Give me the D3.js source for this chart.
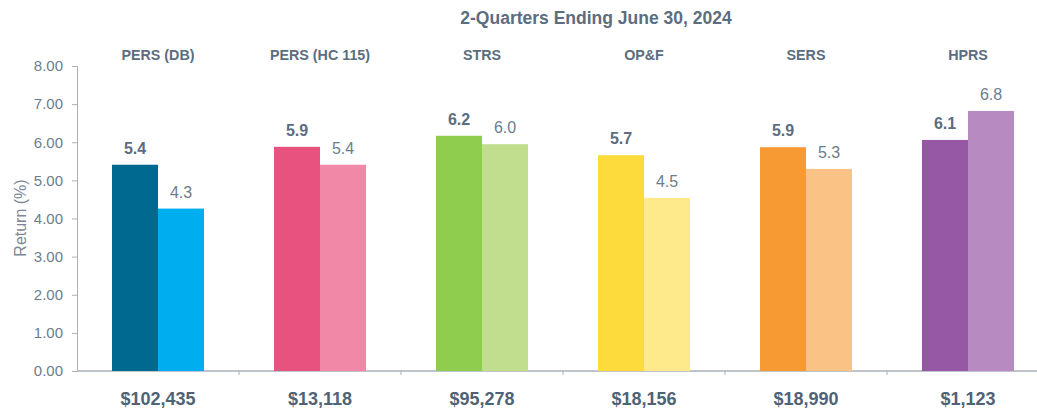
<!DOCTYPE html>
<html>
<head>
<meta charset="utf-8">
<script src="https://cdn.jsdelivr.net/npm/d3@7"></script>
<style>
  body { margin: 0; background: #fff; }
  svg { display: block; font-family: "Liberation Sans", Arial, sans-serif; }
</style>
</head>
<body>
<svg width="1037" height="410"></svg>
<script>
//data
const systems = ["PERS (DB)", "PERS (HC 115)", "STRS", "OP&F", "SERS", "HPRS"];
const fundReturn = [5.41, 5.88, 6.17, 5.66, 5.87, 6.06];
const benchReturn = [4.26, 5.41, 5.95, 4.54, 5.30, 6.82];
const assets = ["$102,435", "$13,118", "$95,278", "$18,156", "$18,990", "$1,123"];
const yTicks = [0, 1, 2, 3, 4, 5, 6, 7, 8];

const darkColors = ["#00698f", "#e8527e", "#8fcd4e", "#fddb3a", "#f79a34", "#9657a5"];
const lightColors = ["#00aeef", "#f288a7", "#c1de8e", "#fee98b", "#fbc286", "#b78bc2"];

const textCol = "#5b6d7e";
const axisCol = "#a9b0b8";

//layout
const plotLeft = 77, bandW = 162, barW = 46;
const plotTop = 66, plotBottom = 371;

const svg = d3.select("svg");

//scales
const x = d3.scaleBand()
    .domain(systems)
    .range([plotLeft, plotLeft + bandW * systems.length])
    .paddingInner(0);

const y = d3.scaleLinear()
    .domain([0, 8])
    .range([plotBottom, plotTop]);

//title
svg.append("text")
    .attr("x", 596)
    .attr("y", 24)
    .attr("text-anchor", "middle")
    .style("font-size", "17.5px")
    .style("font-weight", "bold")
    .style("fill", textCol)
    .text("2-Quarters Ending June 30, 2024");

//y axis
const gY = svg.append("g")
    .attr("transform", "translate(" + plotLeft + ",0)")
    .call(d3.axisLeft(y)
        .tickValues(yTicks)
        .tickFormat(d3.format(".2f"))
        .tickSize(5)
        .tickPadding(9));

gY.selectAll("path, line").attr("stroke", axisCol);
gY.selectAll("text")
    .style("font-size", "15px")
    .style("fill", "#6e7d8b")
    .style("font-family", "Liberation Sans, Arial, sans-serif");

//x axis line with boundary ticks
const gX = svg.append("g")
    .attr("transform", "translate(0," + plotBottom + ")");

gX.append("line")
    .attr("x1", plotLeft)
    .attr("x2", 1037)
    .attr("stroke", axisCol)
    .attr("stroke-width", 1.5);

gX.selectAll(".bt")
    .data(systems.slice(1))
    .enter()
    .append("line")
    .attr("x1", d => x(d))
    .attr("x2", d => x(d))
    .attr("y1", 0)
    .attr("y2", 4)
    .attr("stroke", axisCol);

//y label
svg.append("text")
    .attr("transform", "translate(26,218) rotate(-90)")
    .attr("text-anchor", "middle")
    .style("font-size", "16px")
    .style("fill", "#7a8896")
    .text("Return (%)");

//category names at top
svg.selectAll(".cat")
    .data(systems)
    .enter()
    .append("text")
    .attr("x", d => x(d) + bandW / 2)
    .attr("y", 60)
    .attr("text-anchor", "middle")
    .style("font-size", "14.3px")
    .style("font-weight", "bold")
    .style("fill", textCol)
    .text(d => d);

//asset labels at bottom
svg.selectAll(".asset")
    .data(assets)
    .enter()
    .append("text")
    .attr("x", (d, i) => x(systems[i]) + bandW / 2)
    .attr("y", 405)
    .attr("text-anchor", "middle")
    .style("font-size", "18px")
    .style("font-weight", "bold")
    .style("fill", "#4f6376")
    .text(d => d);

//bars
const chart = svg.append("g");

chart.selectAll(".bar1")
    .data(fundReturn)
    .enter()
    .append("rect")
    .attr("x", (d, i) => x(systems[i]) + bandW / 2 - barW)
    .attr("y", d => y(d))
    .attr("width", barW)
    .attr("height", d => plotBottom - y(d))
    .style("fill", (d, i) => darkColors[i]);

chart.selectAll(".bar2")
    .data(benchReturn)
    .enter()
    .append("rect")
    .attr("x", (d, i) => x(systems[i]) + bandW / 2)
    .attr("y", d => y(d))
    .attr("width", barW)
    .attr("height", d => plotBottom - y(d))
    .style("fill", (d, i) => lightColors[i]);

//value labels
chart.selectAll(".lab1")
    .data(fundReturn)
    .enter()
    .append("text")
    .attr("x", (d, i) => x(systems[i]) + bandW / 2 - barW / 2)
    .attr("y", d => y(d) - 11)
    .attr("text-anchor", "middle")
    .style("font-size", "16px")
    .style("font-weight", "bold")
    .style("fill", textCol)
    .text(d => d3.format(".1f")(d));

chart.selectAll(".lab2")
    .data(benchReturn)
    .enter()
    .append("text")
    .attr("x", (d, i) => x(systems[i]) + bandW / 2 + barW / 2)
    .attr("y", d => y(d) - 11)
    .attr("text-anchor", "middle")
    .style("font-size", "16px")
    .style("fill", "#6e7d8b")
    .text(d => d3.format(".1f")(d));
</script>
</body>
</html>
